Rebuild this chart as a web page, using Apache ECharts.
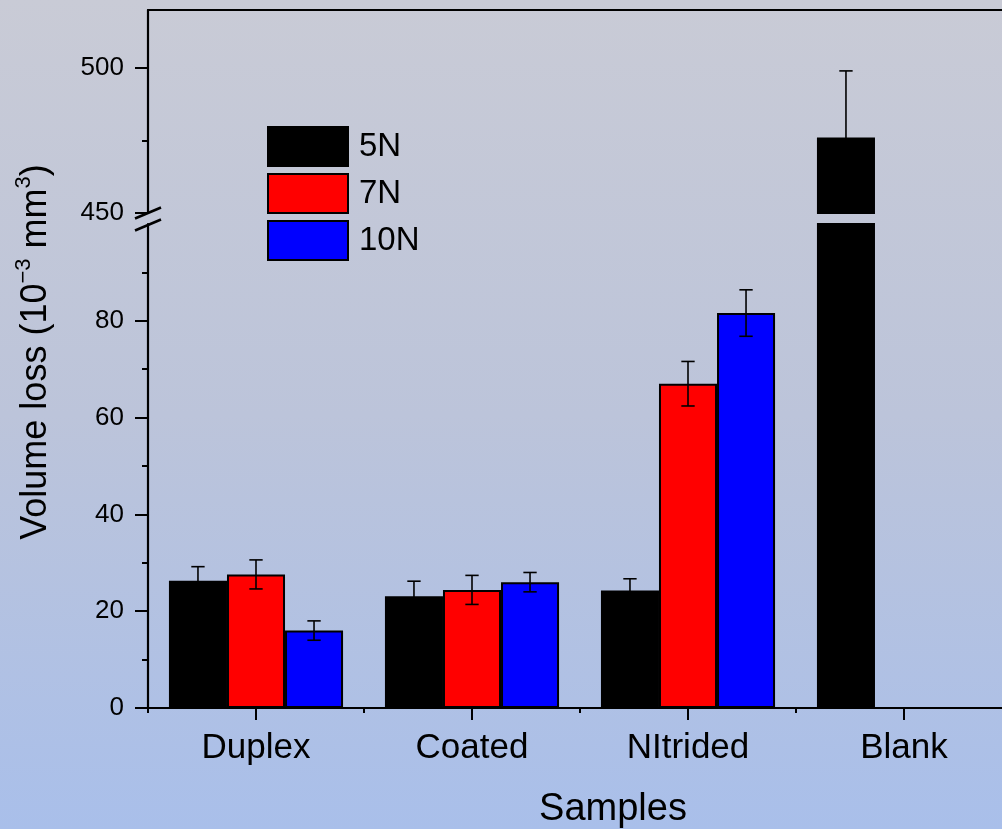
<!DOCTYPE html>
<html>
<head>
<meta charset="utf-8">
<script src="https://cdn.jsdelivr.net/npm/echarts@6/dist/echarts.min.js"></script>
<style>
  html, body { margin: 0; padding: 0; overflow: hidden; }
  #chart {
    width: 1012px; height: 829px;
    background: linear-gradient(to bottom, #c9cbd6 0%, #bcc4da 50%, #a9bfea 100%);
  }
</style>
</head>
<body>
<div id="chart"></div>
<script>
// Wear test: volume loss per sample type at three loads
const categories = ['Duplex', 'Coated', 'NItrided', 'Blank'];
const seriesNames = ['5N', '7N', '10N'];
const load5N  = [26.3, 23.1, 24.3, 476];
const load7N  = [27.6, 24.4, 67.0, null];
const load10N = [16.0, 26.0, 81.6, null];
const err5N  = [2.9, 3.1, 2.4, 23];
const err7N  = [3.0, 3.0, 4.6, null];
const err10N = [2.0, 2.0, 4.8, null];

// broken value axis: lower segment 0-100, upper segment 450-520
const lowMin = 0, lowMax = 100, lowInterval = 20;
const highMin = 450, highMax = 520, highInterval = 50;
const lowTickValues = [0, 20, 40, 60, 80];
const lowMinorValues = [10, 30, 50, 70, 90];
const highTickValues = [450, 500];
const highMinorValues = [475];

const barColors = ['#000000', '#ff0000', '#0000ff'];
const values = [load5N, load7N, load10N];
const errors = [err5N, err7N, err10N];

const FONT = "'Liberation Sans', Arial, sans-serif";
const gridLeft = 148, bandSpan = 864;
const lowTop = 224, lowHeight = 484;
const highTop = 10, highHeight = 203;
const catGap = 0.194;

const chart = echarts.init(document.getElementById('chart'), null, { renderer: 'canvas' });

function errorRender(slot) {
  return function (params, api) {
    const c = api.value(0), v = api.value(1), e = api.value(2);
    const band = api.size([1, 0])[0];
    const barW = band * (1 - catGap) / 3;
    const x = api.coord([c, v])[0] + (slot - 1) * barW;
    const yTop = api.coord([c, v + e])[1];
    const yBot = api.coord([c, v - e])[1];
    const half = barW * 0.115;
    const style = { stroke: '#000', lineWidth: 1.6 };
    return {
      type: 'group',
      children: [
        { type: 'line', shape: { x1: x, y1: yTop, x2: x, y2: yBot }, style },
        { type: 'line', shape: { x1: x - half, y1: yTop, x2: x + half, y2: yTop }, style },
        { type: 'line', shape: { x1: x - half, y1: yBot, x2: x + half, y2: yBot }, style }
      ]
    };
  };
}

function errorData(i, lo, hi) {
  const out = [];
  values[i].forEach((v, c) => {
    if (v != null && errors[i][c] != null && v >= lo && v <= hi) out.push([c, v, errors[i][c]]);
  });
  return out;
}

const series = [];
seriesNames.forEach((name, i) => {
  series.push({
    name, type: 'bar', xAxisIndex: 0, yAxisIndex: 0,
    data: values[i],
    barGap: '0%', barCategoryGap: (catGap * 100) + '%',
    clip: true,
    itemStyle: { color: barColors[i], borderColor: '#000', borderWidth: 2 },
    z: 2
  });
});
seriesNames.forEach((name, i) => {
  series.push({
    name, type: 'bar', xAxisIndex: 2, yAxisIndex: 2,
    data: values[i].map(v => (v != null && v >= highMin ? v : null)),
    barGap: '0%', barCategoryGap: (catGap * 100) + '%',
    clip: true,
    itemStyle: { color: barColors[i], borderColor: '#000', borderWidth: 2 },
    z: 2
  });
});
seriesNames.forEach((name, i) => {
  series.push({
    type: 'custom', xAxisIndex: 0, yAxisIndex: 0,
    renderItem: errorRender(i), data: errorData(i, lowMin, lowMax), z: 5, silent: true
  });
  series.push({
    type: 'custom', xAxisIndex: 2, yAxisIndex: 2,
    renderItem: errorRender(i), data: errorData(i, highMin, highMax), z: 5, silent: true
  });
});

const axisLineStyle = { color: '#000', width: 2.2 };
const tickStyle = { color: '#000', width: 2 };

const option = {
  animation: false,
  backgroundColor: 'transparent',
  textStyle: { fontFamily: FONT, color: '#000' },
  grid: [
    { left: gridLeft, top: lowTop, width: bandSpan, height: lowHeight, outerBoundsMode: 'none', containLabel: false },
    { left: gridLeft, top: highTop, width: bandSpan, height: highHeight, outerBoundsMode: 'none', containLabel: false }
  ],
  legend: {
    data: seriesNames,
    orient: 'vertical',
    left: 262, top: 121,
    itemWidth: 80, itemHeight: 39, itemGap: 6,
    icon: 'rect',
    textStyle: { fontFamily: FONT, fontSize: 33, color: '#000', padding: [0, 0, 0, 6] }
  },
  xAxis: [
    {
      type: 'category', gridIndex: 0, data: categories, position: 'bottom',
      axisLine: { show: true, lineStyle: axisLineStyle },
      axisTick: { show: true, alignWithLabel: true, length: 12, lineStyle: tickStyle },
      axisLabel: { fontFamily: FONT, fontSize: 35, color: '#000', margin: 23 },
      splitLine: { show: false },
      name: 'Samples', nameLocation: 'middle', nameGap: 83,
      nameTextStyle: { fontFamily: FONT, fontSize: 38, color: '#000', padding: [0, 0, 0, 66] }
    },
    {
      type: 'category', gridIndex: 0, data: categories, position: 'bottom',
      axisLine: { show: false },
      axisTick: { show: true, length: 5, lineStyle: tickStyle },
      axisLabel: { show: false }, splitLine: { show: false }
    },
    {
      type: 'category', gridIndex: 1, data: categories, position: 'top',
      axisLine: { show: true, lineStyle: axisLineStyle },
      axisTick: { show: false }, axisLabel: { show: false }, splitLine: { show: false }
    }
  ],
  yAxis: [
    {
      type: 'value', gridIndex: 0, min: lowMin, max: lowMax, interval: lowInterval, position: 'left',
      axisLine: { show: true, lineStyle: axisLineStyle },
      axisTick: { show: true, length: 13, customValues: lowTickValues, lineStyle: tickStyle },
      axisLabel: { customValues: lowTickValues, fontFamily: FONT, fontSize: 26, color: '#000', margin: 24 },
      splitLine: { show: false }
    },
    {
      type: 'value', gridIndex: 0, min: lowMin, max: lowMax, interval: lowInterval, position: 'left',
      axisLine: { show: false },
      axisTick: { show: true, length: 6, customValues: lowMinorValues, lineStyle: tickStyle },
      axisLabel: { show: false }, splitLine: { show: false }
    },
    {
      type: 'value', gridIndex: 1, min: highMin, max: highMax, interval: highInterval, position: 'left',
      axisLine: { show: true, lineStyle: axisLineStyle },
      axisTick: { show: true, length: 13, customValues: highTickValues, lineStyle: tickStyle },
      axisLabel: { customValues: highTickValues, fontFamily: FONT, fontSize: 26, color: '#000', margin: 24 },
      splitLine: { show: false }
    },
    {
      type: 'value', gridIndex: 1, min: highMin, max: highMax, interval: highInterval, position: 'left',
      axisLine: { show: false },
      axisTick: { show: true, length: 6, customValues: highMinorValues, lineStyle: tickStyle },
      axisLabel: { show: false }, splitLine: { show: false }
    }
  ],
  graphic: [
    {
      type: 'text', x: 36, y: 352, rotation: Math.PI / 2,
      style: {
        text: '{n|Volume loss (10}{s|−3}{n| mm}{s|3}{n|)}',
        align: 'center', verticalAlign: 'middle',
        rich: {
          n: { fontFamily: FONT, fontSize: 36, lineHeight: 46, fill: '#000' },
          s: { fontFamily: FONT, fontSize: 22, lineHeight: 22, verticalAlign: 'top', fill: '#000' }
        }
      }
    },
    // axis break marks
    {
      type: 'line', shape: { x1: gridLeft - 13, y1: highTop + highHeight + 5.5, x2: gridLeft + 13, y2: highTop + highHeight - 5.5 },
      style: { stroke: '#000', lineWidth: 2.5 }
    },
    {
      type: 'line', shape: { x1: gridLeft - 13, y1: lowTop + 6.5, x2: gridLeft + 13, y2: lowTop - 4.5 },
      style: { stroke: '#000', lineWidth: 2.5 }
    }
  ],
  series
};

chart.setOption(option);
</script>
</body>
</html>
